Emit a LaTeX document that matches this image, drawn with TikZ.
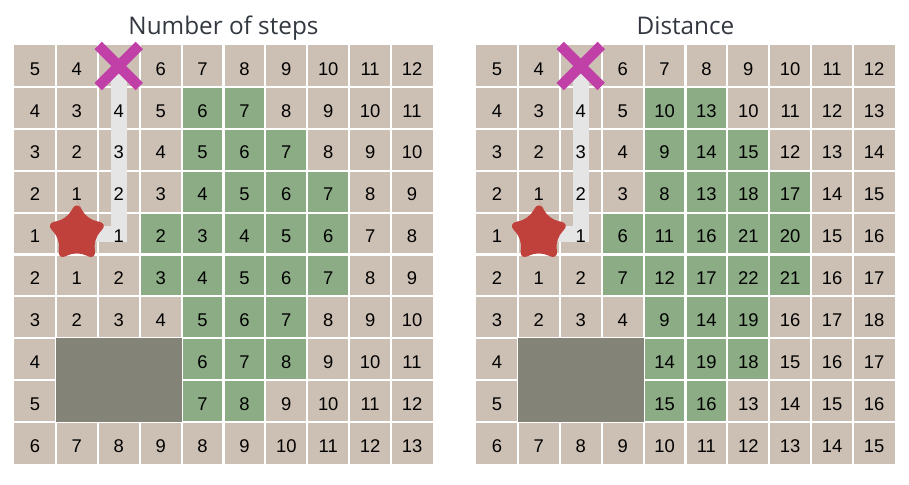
\documentclass[tikz,border=0pt]{standalone}
\usepackage{fontspec}
\setmainfont{Liberation Sans}
\newfontfamily\titlefont{Open Sans}
\usepackage{xcolor}
\usepackage{tikz}
\usetikzlibrary{calc}
\definecolor{Sand}    {HTML}{CCBFB3}
\definecolor{Moss}    {HTML}{8BAC84}
\definecolor{Rock}    {HTML}{838377}
\definecolor{Trail}   {HTML}{E6E5E5}
\definecolor{GoalPink}{HTML}{C040A8}
\definecolor{StartRed}{HTML}{C0403C}
\definecolor{InkGry}  {HTML}{333840}
\def\nocell{-}

\begin{document}
\begin{tikzpicture}[
    cellnum/.style={font=\fontsize{12.5}{14}\selectfont, text=black, inner sep=0pt, anchor=base},
    gridline/.style={white, line width=1.4pt},
    headline/.style={font=\titlefont\fontsize{16.5}{19}\selectfont, text=InkGry, inner sep=0pt, anchor=base}
  ]
      \useasboundingbox (-0.334,-10.501) rectangle (21.361,1.074);
      % ── both boards: cells, walls, path, start and goal ─────────────────────
      \foreach \g/\ox/\ttl in {A/0/Number of steps, B/11.026/Distance} {
        \begin{scope}[xshift=\ox cm]
          % background cells
          \fill[Sand] (0,0) rectangle (10,-10);
          % searched cells (green)
          \foreach \i/\a/\b in {1/4/5, 2/4/6, 3/4/7, 4/3/7, 5/3/7, 6/4/6, 7/4/6, 8/4/5} {
            \foreach \j in {\a,...,\b} {
              \fill[Moss] (\j,-\i) rectangle ++(1,-1);
            }
          }
          % cell grid
          \foreach \k in {1,...,9} {
            \draw[gridline] (\k,0) -- (\k,-10);
            \draw[gridline] (0,-\k) -- (10,-\k);
          }
          % wall block
          \fill[Rock] (1,-7) rectangle (4,-9);
          % path from start to goal
          \coordinate (from\g) at (1.5,-4.5);
          \coordinate (goal\g) at (2.5,-0.5);
          \draw[Trail, line width=0.38cm] (from\g) -| (goal\g);
          % start star (rounded)
          \fill[StartRed, rounded corners=7pt]
            ($(from\g)+(0.1205,0.5658)$) -- ($(from\g)+(90:0.80)$)
            -- ($(from\g)+(126:0.41)$) -- ($(from\g)+(162:0.80)$)
            -- ($(from\g)+(198:0.41)$) -- ($(from\g)+(234:0.80)$)
            -- ($(from\g)+(270:0.41)$) -- ($(from\g)+(306:0.80)$)
            -- ($(from\g)+(342:0.41)$) -- ($(from\g)+(18:0.80)$)
            -- ($(from\g)+(54:0.41)$) -- cycle;
          % goal cross
          \draw[GoalPink, line width=0.25cm]
            ($(goal\g)+(-0.49,0.49)$) -- ($(goal\g)+(0.49,-0.49)$)
            ($(goal\g)+(-0.49,-0.49)$) -- ($(goal\g)+(0.49,0.49)$);
          % title
          \node[headline] (title\g) at (5,0.255) {\ttl};
        \end{scope}
      }

      % ── step counts ─────────────────────────────────────────────────────────
      \foreach \i/\row in {
          0/{5,4,-,6,7,8,9,10,11,12},
          1/{4,3,4,5,6,7,8,9,10,11},
          2/{3,2,3,4,5,6,7,8,9,10},
          3/{2,1,2,3,4,5,6,7,8,9},
          4/{1,-,1,2,3,4,5,6,7,8},
          5/{2,1,2,3,4,5,6,7,8,9},
          6/{3,2,3,4,5,6,7,8,9,10},
          7/{4,-,-,-,6,7,8,9,10,11},
          8/{5,-,-,-,7,8,9,10,11,12},
          9/{6,7,8,9,8,9,10,11,12,13}} {
        \foreach \v [count=\j from 0] in \row {
          \ifx\v\nocell\else
            \node[cellnum] (nA-\i-\j) at (\j+0.5, -\i-0.72) {\v};
          \fi
        }
      }

      % ── distances ───────────────────────────────────────────────────────────
      \foreach \i/\row in {
          0/{5,4,-,6,7,8,9,10,11,12},
          1/{4,3,4,5,10,13,10,11,12,13},
          2/{3,2,3,4,9,14,15,12,13,14},
          3/{2,1,2,3,8,13,18,17,14,15},
          4/{1,-,1,6,11,16,21,20,15,16},
          5/{2,1,2,7,12,17,22,21,16,17},
          6/{3,2,3,4,9,14,19,16,17,18},
          7/{4,-,-,-,14,19,18,15,16,17},
          8/{5,-,-,-,15,16,13,14,15,16},
          9/{6,7,8,9,10,11,12,13,14,15}} {
        \foreach \v [count=\j from 0] in \row {
          \ifx\v\nocell\else
            \node[cellnum] (nB-\i-\j) at (\j+11.526, -\i-0.72) {\v};
          \fi
        }
      }
\end{tikzpicture}
\end{document}
